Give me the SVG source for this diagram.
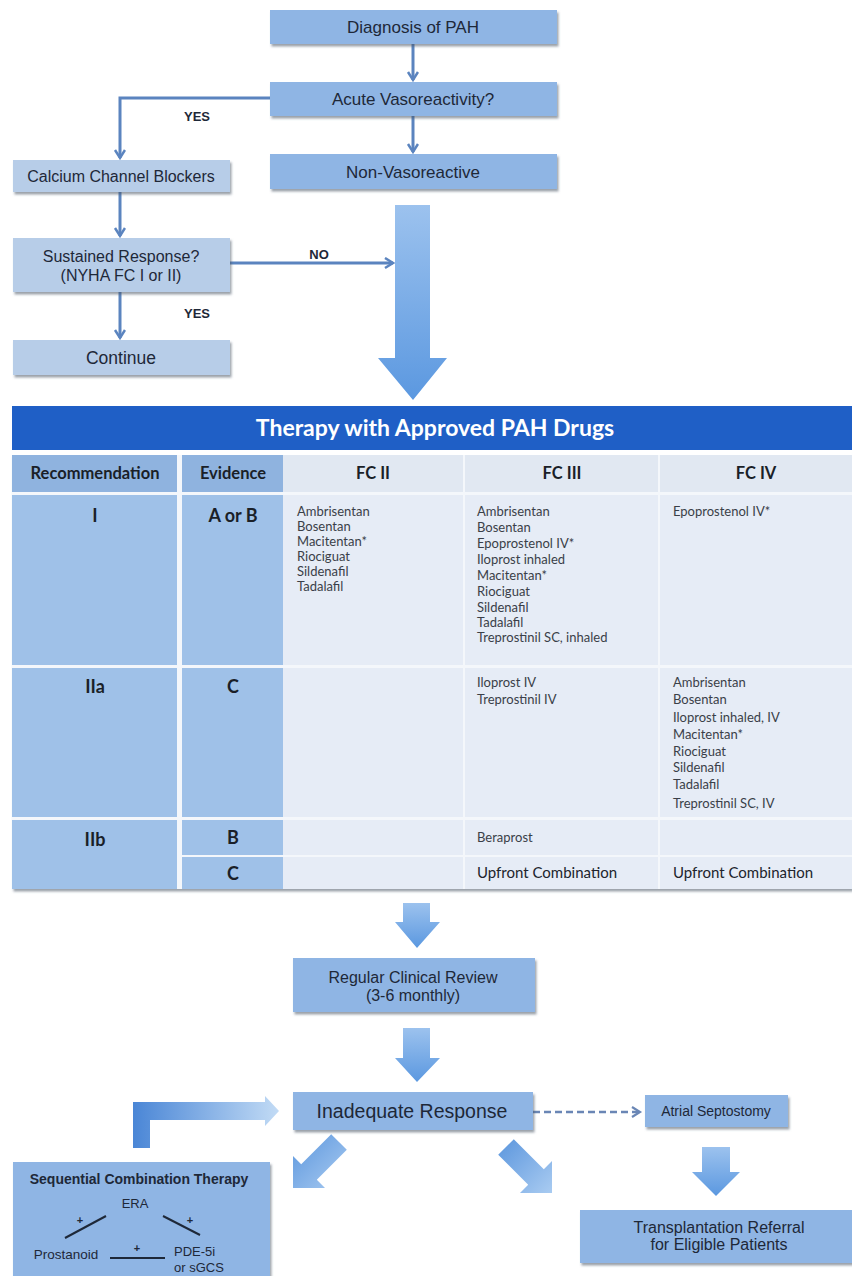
<svg xmlns="http://www.w3.org/2000/svg" width="852" height="1276" viewBox="0 0 852 1276">
<defs>
<style>
.box{fill:#8fb5e4;filter:url(#sh)}
.lbox{fill:#b7cde8;filter:url(#sh)}
.t{font-family:"Liberation Sans",Arial,sans-serif;fill:#1e2838;text-anchor:middle}
.tl{font-family:"Liberation Sans",Arial,sans-serif;fill:#1e2838}
.b{font-weight:bold}
.conn{stroke:#5b84bf;stroke-width:3;fill:none}
.dash{stroke:#6a86b5;stroke-width:2.5;fill:none;stroke-dasharray:7 4}
.blk{fill:url(#gv)}
.cl{font-family:Lato,"Open Sans",sans-serif;fill:#20242c}
.ch{font-family:Lato,"Open Sans",sans-serif;font-weight:bold;font-size:16.5px;fill:#1a1f28;text-anchor:middle}
.rl{font-family:Lato,"Open Sans",sans-serif;font-weight:bold;font-size:18px;fill:#1a1f28;text-anchor:middle}
.dr{font-family:Lato,"Open Sans",sans-serif;font-size:13px;fill:#3a3f48}
.c12{fill:#9fc1e8}
.h12{fill:#8fb3df}
.cr{fill:#e6ecf6}
.hr{fill:#e1e8f2}
</style>
<filter id="sh" x="-5%" y="-10%" width="110%" height="130%">
<feDropShadow dx="1.5" dy="2.5" stdDeviation="1.2" flood-color="#4a5563" flood-opacity="0.55"/>
</filter>
<linearGradient id="gv" x1="0" y1="0" x2="0" y2="1">
<stop offset="0" stop-color="#9cc2ee"/>
<stop offset="1" stop-color="#5b98e0"/>
</linearGradient>
<linearGradient id="gh" x1="0" y1="0" x2="1" y2="0">
<stop offset="0" stop-color="#4a86d6"/>
<stop offset="1" stop-color="#c2dbf5"/>
</linearGradient>
<linearGradient id="gd" x1="0" y1="0" x2="1" y2="1">
<stop offset="0" stop-color="#5b96dd"/>
<stop offset="1" stop-color="#a9cbf1"/>
</linearGradient>
<marker id="ah" markerUnits="userSpaceOnUse" markerWidth="14" markerHeight="14" refX="9" refY="6" orient="auto">
<path d="M1,1 L9,6 L1,11" fill="none" stroke="#5b84bf" stroke-width="2.5"/>
</marker>
<marker id="ahd" markerUnits="userSpaceOnUse" markerWidth="14" markerHeight="14" refX="9" refY="6" orient="auto">
<path d="M1,1 L9,6 L1,11" fill="none" stroke="#6a86b5" stroke-width="2.2"/>
</marker>
</defs>
<rect width="852" height="1276" fill="#ffffff"/>

<g id="connectors">
<line class="conn" x1="413" y1="44" x2="413" y2="80" marker-end="url(#ah)"/>
<line class="conn" x1="413" y1="116" x2="413" y2="152" marker-end="url(#ah)"/>
<path class="conn" d="M270,98 H120 V158" marker-end="url(#ah)"/>
<line class="conn" x1="120" y1="192" x2="120" y2="236" marker-end="url(#ah)"/>
<line class="conn" x1="120" y1="292" x2="120" y2="338" marker-end="url(#ah)"/>
<line class="conn" x1="230" y1="263" x2="393" y2="263" marker-end="url(#ah)"/>
<line class="dash" x1="533" y1="1112" x2="640" y2="1112" marker-end="url(#ahd)"/>
<polygon class="blk" points="395,205 430,205 430,358 447,358 413,400 378,358 395,358"/>
<polygon class="blk" points="403,903 430,903 430,922 440,922 417,948 395,922 403,922"/>
<polygon class="blk" points="403,1028 430,1028 430,1058 440,1058 417,1082 395,1058 403,1058"/>
<polygon class="blk" points="702,1147 730,1147 730,1172 740,1172 716,1196 692,1172 702,1172"/>
<polygon fill="url(#gd)" points="513.8,1139.2 543.8,1169.2 552,1161 552,1193 520,1193 528.2,1184.8 498.2,1154.8"/>
<polygon fill="url(#gd)" points="331.2,1134.2 346.8,1149.8 316.8,1179.8 325,1188 293,1188 293,1156 301.2,1164.2"/>
<polygon fill="url(#gh)" points="133,1148 133,1102 265,1102 265,1096 279,1111 265,1126 265,1120 150,1120 150,1148"/>
<text class="t b" x="197" y="121" font-size="13">YES</text>
<text class="t b" x="319" y="259" font-size="13">NO</text>
<text class="t b" x="197" y="318" font-size="13">YES</text>
</g>

<g id="n-diagnosis"><rect class="box" x="270" y="10" width="287" height="34"/><text class="t" x="413" y="33" font-size="17">Diagnosis of PAH</text></g>
<g id="n-acute"><rect class="box" x="270" y="82" width="287" height="34"/><text class="t" x="413" y="105" font-size="17">Acute Vasoreactivity?</text></g>
<g id="n-nonvaso"><rect class="box" x="270" y="154" width="287" height="35"/><text class="t" x="413" y="177.5" font-size="17">Non-Vasoreactive</text></g>
<g id="n-ccb"><rect class="lbox" x="13" y="160" width="217" height="32"/><text class="t" x="121" y="181.5" font-size="16">Calcium Channel Blockers</text></g>
<g id="n-sustained"><rect class="lbox" x="13" y="238" width="217" height="54"/><text class="t" x="121" y="262" font-size="16">Sustained Response?</text><text class="t" x="121" y="281" font-size="16">(NYHA FC I or II)</text></g>
<g id="n-continue"><rect class="lbox" x="13" y="340" width="217" height="35"/><text class="t" x="121" y="364" font-size="17.5">Continue</text></g>

<g id="n-table">
<rect x="12" y="455" width="840" height="434" fill="#f4f7fb" filter="url(#sh)"/>
<rect x="12" y="406" width="840" height="44" fill="#1f5fc6"/>
<text x="435" y="436" font-family="Lato,'Open Sans',sans-serif" font-weight="bold" font-size="23" fill="#ffffff" text-anchor="middle">Therapy with Approved PAH Drugs</text>
<rect class="h12" x="12" y="455" width="165" height="37"/>
<rect class="h12" x="182" y="455" width="101" height="37"/>
<rect class="hr" x="283" y="455" width="180" height="37"/>
<rect class="hr" x="465" y="455" width="193" height="37"/>
<rect class="hr" x="660" y="455" width="192" height="37"/>
<rect class="c12" x="12" y="495" width="165" height="170"/>
<rect class="c12" x="182" y="495" width="101" height="170"/>
<rect class="cr" x="283" y="495" width="180" height="170"/>
<rect class="cr" x="465" y="495" width="193" height="170"/>
<rect class="cr" x="660" y="495" width="192" height="170"/>
<rect class="c12" x="12" y="668" width="165" height="149"/>
<rect class="c12" x="182" y="668" width="101" height="149"/>
<rect class="cr" x="283" y="668" width="180" height="149"/>
<rect class="cr" x="465" y="668" width="193" height="149"/>
<rect class="cr" x="660" y="668" width="192" height="149"/>
<rect class="c12" x="12" y="820" width="165" height="69"/>
<rect class="c12" x="182" y="820" width="101" height="35"/>
<rect class="c12" x="182" y="857" width="101" height="32"/>
<rect class="cr" x="283" y="820" width="180" height="35"/>
<rect class="cr" x="465" y="820" width="193" height="35"/>
<rect class="cr" x="660" y="820" width="192" height="35"/>
<rect class="cr" x="283" y="857" width="180" height="32"/>
<rect class="cr" x="465" y="857" width="193" height="32"/>
<rect class="cr" x="660" y="857" width="192" height="32"/>
<text class="ch" x="95" y="479">Recommendation</text>
<text class="ch" x="233" y="479">Evidence</text>
<text class="ch" x="373" y="479">FC II</text>
<text class="ch" x="562" y="479">FC III</text>
<text class="ch" x="756" y="479">FC IV</text>
<text class="rl" x="95" y="522">I</text>
<text class="rl" x="233" y="522">A or B</text>
<text class="rl" x="95" y="693">IIa</text>
<text class="rl" x="233" y="693">C</text>
<text class="rl" x="95" y="846">IIb</text>
<text class="rl" x="233" y="844">B</text>
<text class="rl" x="233" y="880">C</text>
<text class="dr" x="297" y="516"><tspan x="297" y="516">Ambrisentan</tspan><tspan x="297" y="531">Bosentan</tspan><tspan x="297" y="546">Macitentan*</tspan><tspan x="297" y="561">Riociguat</tspan><tspan x="297" y="576">Sildenafil</tspan><tspan x="297" y="591">Tadalafil</tspan></text>
<text class="dr" x="477" y="516"><tspan x="477" y="516">Ambrisentan</tspan><tspan x="477" y="532">Bosentan</tspan><tspan x="477" y="548">Epoprostenol IV*</tspan><tspan x="477" y="564">Iloprost inhaled</tspan><tspan x="477" y="580">Macitentan*</tspan><tspan x="477" y="596">Riociguat</tspan><tspan x="477" y="612">Sildenafil</tspan><tspan x="477" y="627">Tadalafil</tspan><tspan x="477" y="642">Treprostinil SC, inhaled</tspan></text>
<text class="dr" x="673" y="516">Epoprostenol IV*</text>
<text class="dr" x="477" y="687"><tspan x="477" y="687">Iloprost IV</tspan><tspan x="477" y="704">Treprostinil IV</tspan></text>
<text class="dr" x="673" y="687"><tspan x="673" y="687">Ambrisentan</tspan><tspan x="673" y="704">Bosentan</tspan><tspan x="673" y="722">Iloprost inhaled, IV</tspan><tspan x="673" y="739">Macitentan*</tspan><tspan x="673" y="756">Riociguat</tspan><tspan x="673" y="772">Sildenafil</tspan><tspan x="673" y="789">Tadalafil</tspan><tspan x="673" y="808">Treprostinil SC, IV</tspan></text>
<text class="dr" x="477" y="842">Beraprost</text>
<text class="cl" x="477" y="878" font-size="15">Upfront Combination</text>
<text class="cl" x="673" y="878" font-size="15">Upfront Combination</text>
</g>

<g id="n-review"><rect class="box" x="293" y="958" width="242" height="54"/><text class="t" x="413" y="983" font-size="16">Regular Clinical Review</text><text class="t" x="413" y="1001" font-size="16">(3-6 monthly)</text></g>
<g id="n-inadequate"><rect class="box" x="293" y="1092" width="240" height="38"/><text class="t" x="412" y="1118" font-size="19.5">Inadequate Response</text></g>
<g id="n-atrial"><rect class="box" x="645" y="1095" width="143" height="32"/><text class="t" x="716" y="1116" font-size="14">Atrial Septostomy</text></g>
<g id="n-transplant"><rect class="box" x="580" y="1210" width="280" height="53"/><text class="t" x="719" y="1233" font-size="16">Transplantation Referral</text><text class="t" x="719" y="1250" font-size="16">for Eligible Patients</text></g>
<g id="n-sequential">
<rect class="box" x="13" y="1162" width="257" height="124"/>
<text class="t b" x="139" y="1184" font-size="14">Sequential Combination Therapy</text>
<text class="t" x="135" y="1208" font-size="13">ERA</text>
<line x1="65" y1="1238" x2="106" y2="1216" stroke="#1e2838" stroke-width="2"/>
<line x1="163" y1="1216" x2="200" y2="1235" stroke="#1e2838" stroke-width="2"/>
<line x1="110" y1="1258" x2="165" y2="1258" stroke="#1e2838" stroke-width="2"/>
<text class="t b" x="80" y="1224" font-size="11">+</text>
<text class="t b" x="190" y="1224" font-size="11">+</text>
<text class="t b" x="137" y="1252" font-size="11">+</text>
<text class="t" x="66" y="1259" font-size="13.5">Prostanoid</text>
<text class="tl" x="174" y="1256" font-size="13">PDE-5i</text>
<text class="tl" x="174" y="1272" font-size="13">or sGCS</text>
</g>
</svg>
